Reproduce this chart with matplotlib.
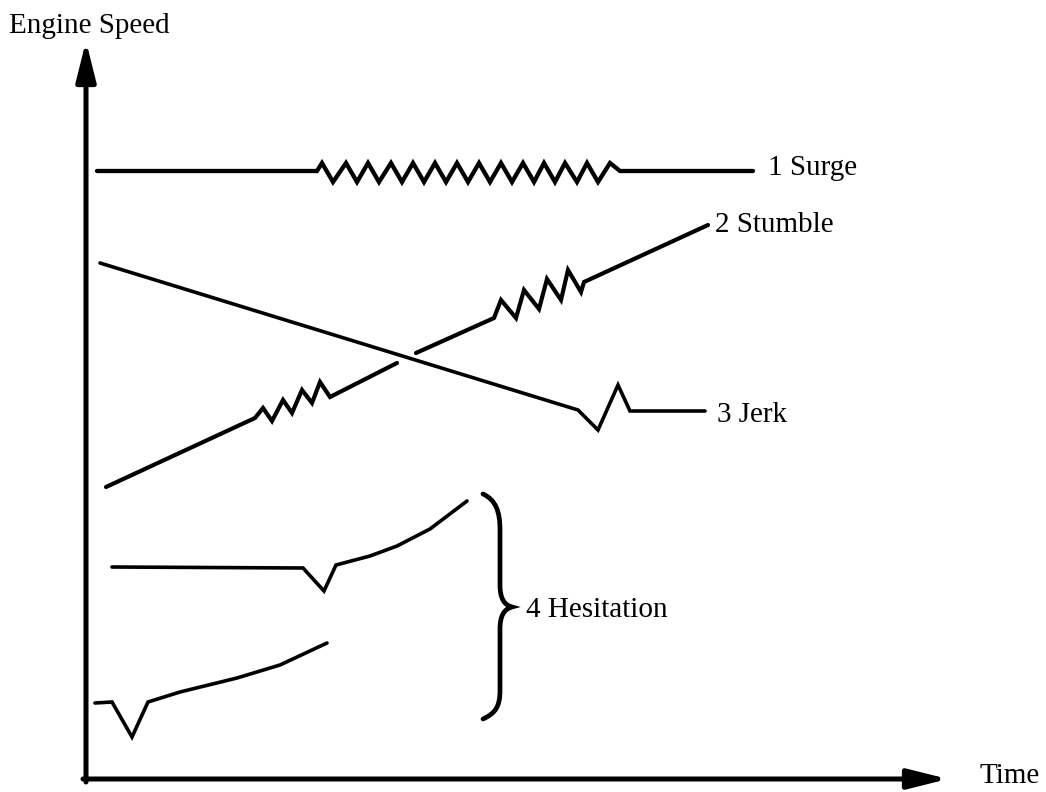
import matplotlib
matplotlib.use("Agg")
import matplotlib.pyplot as plt
from matplotlib.path import Path
from matplotlib.patches import PathPatch

plt.rcParams['font.family'] = ['Liberation Serif', 'DejaVu Serif']

# -----------------------------
# Curves (time, engine speed), arbitrary units from the origin
# -----------------------------
# 1 Surge: steady speed with a long run of small oscillations
surge_t = [11, 231,
           236, 247, 260, 271, 282, 293, 305, 316, 327, 338, 349, 360,
           371, 382, 393, 404, 415, 426, 437, 448, 458, 469, 479, 491,
           501, 512, 524,
           534, 667]
surge_s = [608, 608,
           616, 597, 616, 597, 616, 597, 616, 597, 616, 597, 616, 597,
           616, 597, 616, 597, 616, 597, 616, 597, 616, 597, 616, 597,
           616, 597, 616,
           608, 608]

# 2 Stumble: rising speed with two rough patches (drawn in two pieces)
stumble_a_t = [20, 169, 177, 186, 197, 206, 216, 226, 234, 244, 311]
stumble_a_s = [292, 361, 371, 358, 379, 366, 389, 376, 397, 382, 416]
stumble_b_t = [330, 408, 415, 430, 438, 453, 461, 475, 482, 495, 498, 622]
stumble_b_s = [426, 461, 479, 461, 489, 470, 500, 479, 509, 487, 497, 554]

# 3 Jerk: falling speed, one sharp dip and kick, then steady
jerk_t = [14, 492, 512, 532, 544, 619]
jerk_s = [516, 369, 349, 394, 368, 368]

# 4 Hesitation: short dip before the speed picks up
hes_a_t = [26, 217, 238, 250, 284, 311, 344, 381]
hes_a_s = [212, 211, 188, 214, 223, 233, 250, 278]
hes_b_t = [9, 26, 46, 62, 94, 151, 194, 241]
hes_b_s = [76, 77, 42, 77, 87, 101, 114, 136]

# brace grouping the two hesitation curves
brace_t = [397, 410, 414, 414, 414, 414, 418, 426, 418, 414, 414, 414, 414, 410, 397]
brace_s = [285, 279, 267, 249, 194, 181, 174, 172, 170, 163, 150, 89, 73, 66, 60]

labels = ["1 Surge", "2 Stumble", "3 Jerk", "4 Hesitation"]
label_t = [682, 629, 631, 440]
label_s = [604, 547, 357, 162]

t_max, s_max = 862, 738

# -----------------------------
# Figure
# -----------------------------
fig = plt.figure(figsize=(10.46, 7.92), dpi=100)
ax = fig.add_axes([0, 0, 1, 1])
ax.set_xlim(-86, 960)
ax.set_ylim(-13, 779)
ax.axis("off")

style = dict(color="black", solid_joinstyle="miter", solid_capstyle="round")
ax.plot(surge_t, surge_s, lw=3.1, **style)
ax.plot(stumble_a_t, stumble_a_s, lw=3.0, **style)
ax.plot(stumble_b_t, stumble_b_s, lw=3.0, **style)
ax.plot(jerk_t, jerk_s, lw=2.6, **style)
ax.plot(hes_a_t, hes_a_s, lw=2.6, **style)
ax.plot(hes_b_t, hes_b_s, lw=2.6, **style)

# curly brace as bezier segments
codes = ([Path.MOVETO] + [Path.CURVE4] * 3 + [Path.LINETO] + [Path.CURVE4] * 6
         + [Path.LINETO] + [Path.CURVE4] * 3)
brace = Path(list(zip(brace_t, brace_s)), codes)
ax.add_patch(PathPatch(brace, facecolor="none", edgecolor="black", lw=3.4, capstyle="round"))

# axes with arrow heads
arrow = dict(arrowstyle="-|>,head_length=2.4,head_width=0.6", mutation_scale=10,
             lw=3.6, color="black", shrinkA=0, shrinkB=0)
ax.annotate("", xy=(0, s_max), xytext=(0, -3), arrowprops=arrow)
ax.annotate("", xy=(t_max, 0), xytext=(-3, 0), arrowprops=arrow)

for text, t, s in zip(labels, label_t, label_s):
    ax.text(t, s, text, fontsize=21, ha="left", va="baseline")

ax.text(-77, 746, "Engine Speed", fontsize=21, ha="left", va="baseline")
ax.text(893, -4, "Time", fontsize=21, ha="left", va="baseline")

fig.savefig("out.png", dpi=100, facecolor="white")
